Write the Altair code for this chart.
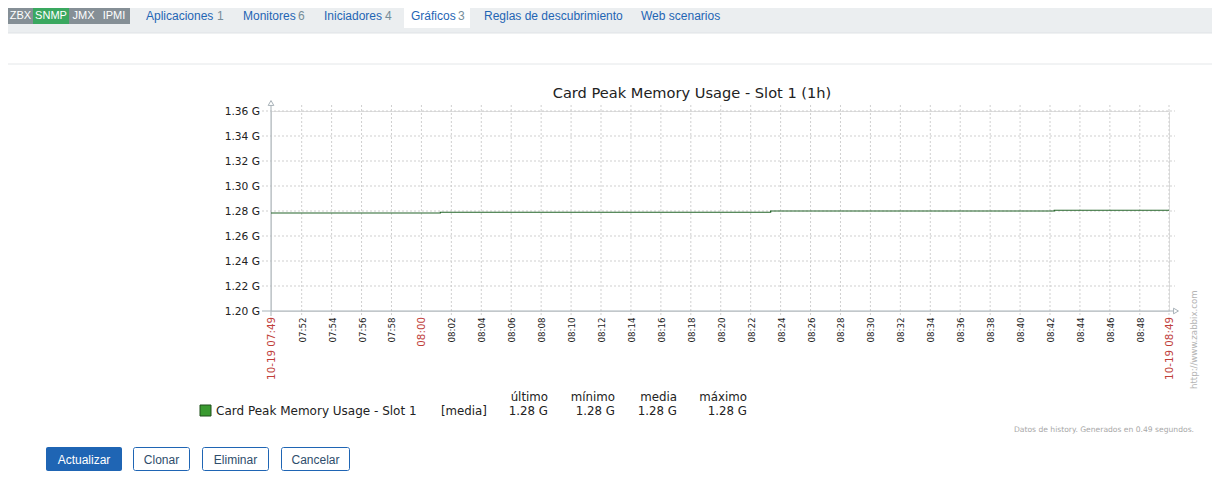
import altair as alt
import pandas as pd

# ---------------- data ----------------
DAY = "2023-10-19"
line_times = ["07:49:57", "08:01:16", "08:23:20", "08:42:17", "08:49:57"]
line_values = [1.2784, 1.2790, 1.2800, 1.2806, 1.2806]  # in G

y_tick_values = [1.20, 1.22, 1.24, 1.26, 1.28, 1.30, 1.32, 1.34, 1.36]
minor_tick_labels = ["07:52", "07:54", "07:56", "07:58", "08:02", "08:04", "08:06",
                     "08:08", "08:10", "08:12", "08:14", "08:16", "08:18", "08:20",
                     "08:22", "08:24", "08:26", "08:28", "08:30", "08:32", "08:34",
                     "08:36", "08:38", "08:40", "08:42", "08:44", "08:46", "08:48"]
major_tick_times = ["07:49:57", "08:00:00", "08:49:57"]
major_tick_labels = ["10-19 07:49", "08:00", "10-19 08:49"]

chart_title = "Card Peak Memory Usage - Slot 1 (1h)"
series_name = "Card Peak Memory Usage - Slot 1"
series_func = "[media]"
stat_names = ["último", "mínimo", "media", "máximo"]
badges = ["ZBX", "SNMP", "JMX", "IPMI"]
tab_names = ["Aplicaciones", "Monitores", "Iniciadores", "Gráficos",
             "Reglas de descubrimiento", "Web scenarios"]
tab_counts = ["1", "6", "4", "3", "", ""]
buttons = ["Actualizar", "Clonar", "Eliminar", "Cancelar"]
footer = "Datos de history. Generados en 0.49 segundos."
watermark = "http://www.zabbix.com"

# ---------------- layout constants ----------------
OX, OY = 271, 111          # page position of plot origin
W, H = 898, 200
AXIS = "#a8b2b8"
GRID = "#cfcfcf"
TXT = "#222222"
RED = "#c0403a"
GREEN = "#25652a"
BLUE = "#1f65b4"
GFONT = "DejaVu Sans"
UFONT = "Liberation Sans"


def ts(hms):
    return f"{DAY}T{hms}"


x_scale = alt.Scale(domain=[
    alt.DateTime(year=2023, month=10, date=19, hours=7, minutes=49, seconds=57),
    alt.DateTime(year=2023, month=10, date=19, hours=8, minutes=49, seconds=57)])
y_scale = alt.Scale(domain=[1.20, 1.36], zero=False, nice=False)
X = alt.X("t:T", scale=x_scale, axis=None)
Y = alt.Y("v:Q", scale=y_scale, axis=None)

ONE = pd.DataFrame({"k": [0]})


def text(s, px, py, size, color=TXT, font=GFONT, align="left", baseline="middle",
         angle=0, weight="normal"):
    return alt.Chart(ONE).mark_text(
        text=s, font=font, fontSize=size, color=color, align=align,
        baseline=baseline, angle=angle, fontWeight=weight
    ).encode(x=alt.value(px - OX), y=alt.value(py - OY))


def box(px1, py1, px2, py2, fill, stroke=None, radius=0):
    kw = dict(fill=fill, cornerRadius=radius)
    if stroke:
        kw.update(stroke=stroke, strokeWidth=1)
    return alt.Chart(ONE).mark_rect(**kw).encode(
        x=alt.value(px1 - OX), x2=alt.value(px2 - OX),
        y=alt.value(py1 - OY), y2=alt.value(py2 - OY))


def hline(px1, px2, py, color, width=1):
    return alt.Chart(ONE).mark_rule(color=color, strokeWidth=width).encode(
        x=alt.value(px1 - OX), x2=alt.value(px2 - OX), y=alt.value(py - OY))


def vline(px, py1, py2, color, width=1):
    return alt.Chart(ONE).mark_rule(color=color, strokeWidth=width).encode(
        x=alt.value(px - OX), y=alt.value(py1 - OY), y2=alt.value(py2 - OY))


layers = []

# ---------- page chrome: top bar ----------
layers.append(box(0, 0, 1220, 33, "#ebeef0"))
layers.append(hline(0, 1220, 33, "#dfe3e6"))
badge_x = [8, 33, 69, 98, 130]
badge_fill = ["#858f96", "#3aa860", "#858f96", "#858f96"]
for i, b in enumerate(badges):
    layers.append(box(badge_x[i], 8, badge_x[i + 1], 24, badge_fill[i]))
    layers.append(text(b, (badge_x[i] + badge_x[i + 1]) / 2, 16, 11, "white",
                       UFONT, align="center"))
layers.append(box(404, 8, 470, 28, "#ffffff"))
tab_x = [146, 243, 324, 411, 484, 641]
tab_num_x = [217, 298, 385, 458, None, None]
for i, name in enumerate(tab_names):
    layers.append(text(name, tab_x[i], 16, 12, BLUE, UFONT))
    if tab_counts[i]:
        layers.append(text(tab_counts[i], tab_num_x[i], 16, 12, "#768d99", UFONT))
layers.append(hline(0, 1220, 64, "#e4e7e9"))

# ---------- title ----------
layers.append(text(chart_title, 692, 93.5, 14.6, TXT, GFONT, align="center"))

# ---------- grid ----------
hgrid_df = pd.DataFrame({"v": y_tick_values[1:]})
layers.append(alt.Chart(hgrid_df).mark_rule(color=GRID, strokeDash=[2, 2]).encode(
    y=Y, x=alt.value(262 - OX), x2=alt.value(1175 - OX)))

vgrid_times = [ts(l + ":00") for l in minor_tick_labels] + [ts(t) for t in major_tick_times[1:]]
vgrid_df = pd.DataFrame({"t": vgrid_times})
layers.append(alt.Chart(vgrid_df).mark_rule(color=GRID, strokeDash=[2, 2]).encode(
    x=X, y=alt.value(105 - OY), y2=alt.value(315 - OY)))

# ---------- axes ----------
layers.append(hline(262, 1173, 311, AXIS))
layers.append(vline(271, 106, 316, AXIS))
layers.append(alt.Chart(ONE).mark_point(shape="triangle-up", size=32, filled=True,
                                        fill="white", stroke=AXIS, strokeWidth=1,
                                        opacity=1).encode(
    x=alt.value(271 - OX), y=alt.value(103 - OY)))
layers.append(alt.Chart(ONE).mark_point(shape="triangle-right", size=32, filled=True,
                                        fill="white", stroke=AXIS, strokeWidth=1,
                                        opacity=1).encode(
    x=alt.value(1176 - OX), y=alt.value(311 - OY)))

# ---------- y labels ----------
ylab_df = pd.DataFrame({"v": y_tick_values,
                        "label": [f"{v:.2f} G" for v in y_tick_values]})
layers.append(alt.Chart(ylab_df).mark_text(
    align="right", baseline="middle", font=GFONT, fontSize=10.67, color=TXT,
    dy=1).encode(y=Y, x=alt.value(260 - OX), text="label:N"))

# ---------- x labels ----------
minor_df = pd.DataFrame({"t": [ts(l + ":00") for l in minor_tick_labels],
                         "label": minor_tick_labels})
layers.append(alt.Chart(minor_df).mark_text(
    angle=270, align="right", baseline="middle", font=GFONT, fontSize=8.7,
    color=TXT, dy=1).encode(x=X, y=alt.value(317.5 - OY), text="label:N"))
major_df = pd.DataFrame({"t": [ts(t) for t in major_tick_times],
                         "label": major_tick_labels})
layers.append(alt.Chart(major_df).mark_text(
    angle=270, align="right", baseline="middle", font=GFONT, fontSize=10.3,
    color=RED, dy=1).encode(x=X, y=alt.value(317 - OY), text="label:N"))

# ---------- data line ----------
line_df = pd.DataFrame({"t": [ts(t) for t in line_times], "v": line_values})
layers.append(alt.Chart(line_df).mark_line(
    interpolate="step-after", color=GREEN, strokeWidth=1.2).encode(x=X, y=Y))

# ---------- legend ----------
stats = [line_values[-1], min(line_values), sum(line_values) / len(line_values),
         max(line_values)]
layers.append(box(200, 405, 211, 416, "#3a9a30", stroke="#1f4f1a"))
layers.append(text(series_name, 216, 410.5, 12))
layers.append(text(series_func, 441, 410.5, 11.8))
stat_right = [548, 615, 677, 747]
for i, name in enumerate(stat_names):
    layers.append(text(name, stat_right[i], 396.5, 11.8, align="right"))
    layers.append(text(f"{stats[i]:.2f} G", stat_right[i], 410.5, 11.8, align="right"))

# ---------- watermark & footer ----------
layers.append(text(watermark, 1194, 389, 8.6, "#b4b4b4", GFONT, align="left",
                   angle=270))
layers.append(text(footer, 1194, 429.5, 7.6, "#a8a8a8", GFONT, align="right"))

# ---------- buttons ----------
btn_x = [(46, 122), (133, 190), (202, 269), (281, 350)]
for i, b in enumerate(buttons):
    x1, x2 = btn_x[i]
    if i == 0:
        layers.append(box(x1, 447, x2, 471, BLUE, radius=2))
        layers.append(text(b, (x1 + x2) / 2, 459.5, 12, "white", UFONT, align="center"))
    else:
        layers.append(box(x1 + 0.5, 447.5, x2 - 0.5, 470.5, "white", stroke=BLUE, radius=2))
        layers.append(text(b, (x1 + x2) / 2, 459.5, 12, "#2e4d6b", UFONT, align="center"))

chart = alt.layer(*layers).properties(
    width=W, height=H,
    autosize=alt.AutoSizeParams(type="none"),
    padding={"left": OX - 8, "top": OY - 8, "right": 1204 - (OX - 8) - W,
             "bottom": 466 - (OY - 8) - H},
).configure_view(strokeWidth=0).configure(background="white")

chart.save("out.html", embed_options={"renderer": "svg", "actions": False})
